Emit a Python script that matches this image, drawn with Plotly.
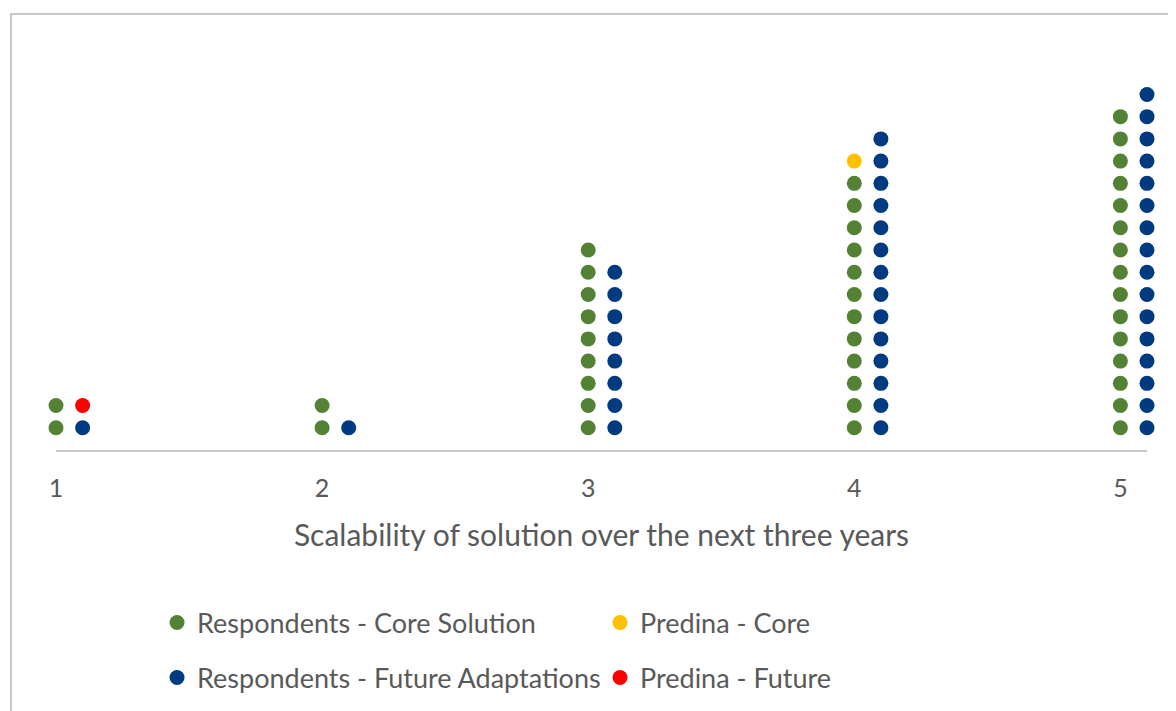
import plotly.graph_objects as go

# ── Data ──────────────────────────────────────────────────────────────────────
scores = [1, 2, 3, 4, 5]
core_counts = [2, 2, 9, 12, 15]      # respondents - core solution
future_counts = [1, 1, 8, 14, 16]    # respondents - future adaptations

predina_core_score = [4]
predina_core_stack = [13]
predina_future_score = [1]
predina_future_stack = [2]

FUTURE_SHIFT = 0.1  # future dots sit just right of the core column

GREEN = "#548235"
BLUE = "#003A80"
YELLOW = "#FFC000"
RED = "#FF0000"
TXT = "#595959"
FONT = "Lato, Carlito, Calibri, sans-serif"


def stack(xs, counts, shift=0.0):
    px, py = [], []
    for x, n in zip(xs, counts):
        px += [x + shift] * n
        py += list(range(1, n + 1))
    return px, py


cx, cy = stack(scores, core_counts)
fx, fy = stack(scores, future_counts, FUTURE_SHIFT)

fig = go.Figure()
mk = dict(size=15)
fig.add_trace(go.Scatter(x=cx, y=cy, mode="markers", name="Respondents - Core Solution",
                         marker=dict(color=GREEN, **mk), cliponaxis=False, legend="legend"))
fig.add_trace(go.Scatter(x=predina_core_score, y=predina_core_stack, mode="markers", name="Predina - Core",
                         marker=dict(color=YELLOW, **mk), cliponaxis=False, legend="legend"))
fig.add_trace(go.Scatter(x=fx, y=fy, mode="markers", name="Respondents - Future Adaptations",
                         marker=dict(color=BLUE, **mk), cliponaxis=False, legend="legend2"))
fig.add_trace(go.Scatter(x=[s + FUTURE_SHIFT for s in predina_future_score], y=predina_future_stack,
                         mode="markers", name="Predina - Future",
                         marker=dict(color=RED, **mk), cliponaxis=False, legend="legend2"))

# plot area: 48..1139 px wide (1091), 42..442 px high (400)
leg = dict(orientation="h", xanchor="left", yanchor="middle", x=0.0926,
           font=dict(family=FONT, size=27, color=TXT), bgcolor="rgba(0,0,0,0)",
           entrywidth=398, entrywidthmode="pixels", itemsizing="trace", traceorder="normal")

fig.update_layout(
    width=1176, height=711,
    margin=dict(l=48, r=37, t=42, b=269),
    paper_bgcolor="white", plot_bgcolor="white",
    font=dict(family=FONT, color=TXT),
    legend=dict(leg, y=-0.4325),
    legend2=dict(leg, y=-0.57),
    xaxis=dict(range=[1, 5.1], tickvals=scores, ticktext=[str(s) for s in scores],
               showgrid=False, zeroline=False, showline=True, linecolor="#C8C8C8", linewidth=2,
               ticks="", ticklabelstandoff=15, tickfont=dict(size=25, color=TXT),
               title=dict(text="Scalability of solution over the next three years",
                          font=dict(size=30, color=TXT), standoff=24)),
    yaxis=dict(range=[0, 18], visible=False),
    shapes=[dict(type="rect", xref="paper", yref="paper",
                 x0=(3 - 48) / 1091, x1=1.2, y0=-0.8, y1=(442 - 6) / 400,
                 line=dict(color="#C8C8C8", width=2), fillcolor="rgba(0,0,0,0)", layer="below")],
)

fig.write_html("out.html")
